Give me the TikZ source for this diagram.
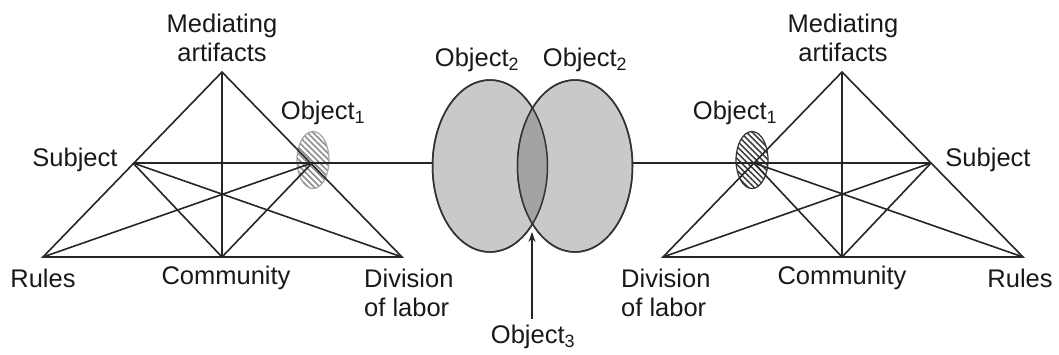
\documentclass[tikz,border=0pt]{standalone}
\usepackage{fontspec}
\setmainfont{Liberation Sans}
\usetikzlibrary{shapes.geometric,patterns.meta,arrows.meta}
\begin{document}
\begin{tikzpicture}[x=1pt,y=-1pt,
  edge/.style={line width=1.6pt, draw=black!85},
  lbl/.style={font=\fontsize{25.5}{29.5}\selectfont, inner sep=0pt, align=center, text=black!90},
  bigobj/.style={ellipse, draw=black!80, line width=1.5pt, minimum width=115pt, minimum height=172pt, inner sep=0pt},
  smallobj/.style={ellipse, line width=1.2pt, minimum width=32pt, minimum height=57pt, inner sep=0pt,
    pattern={Lines[angle=-45,distance=4.2pt,line width=1.6pt]}},
  vtx/.style={inner sep=0pt, minimum size=0pt}
]
\useasboundingbox (0,0) rectangle (1059,354);

% ---------- middle: Object2 ellipses ----------
\node[bigobj, fill=gray!42] (o2a) at (490,166) {};
\node[bigobj, fill=gray!42] (o2b) at (575,166) {};
\begin{scope}
  \clip (490,166) ellipse [x radius=57.5pt, y radius=86pt];
  \fill[gray!72] (575,166) ellipse [x radius=57.5pt, y radius=86pt];
\end{scope}
\draw[black!80, line width=1.5pt] (490,166) ellipse [x radius=57.5pt, y radius=86pt];
\draw[black!80, line width=1.5pt] (575,166) ellipse [x radius=57.5pt, y radius=86pt];

% ---------- left triangle ----------
\node[smallobj, pattern color=black!45, draw=black!35] (Lo1e) at (313,160) {};
\coordinate (Ltop) at (222,72);
\coordinate (Lsub) at (133,163);
\coordinate (Lobj) at (312,163);
\coordinate (Lrul) at (43,257);
\coordinate (Lcom) at (222,257);
\coordinate (Ldiv) at (402,257);
\draw[edge] (Lrul) -- (Ltop) -- (Ldiv) -- cycle;
\draw[edge] (Ltop) -- (Lcom);
\draw[edge] (Lsub) -- (Lobj);
\draw[edge] (Lsub) -- (Lcom);
\draw[edge] (Lsub) -- (Ldiv);
\draw[edge] (Lobj) -- (Lrul);
\draw[edge] (Lobj) -- (Lcom);
\draw[edge] (Lobj) -- (Lobj -| o2a.west);

% ---------- right triangle ----------
\node[smallobj, pattern color=black!75, draw=black!80] (Ro1e) at (752,160) {};
\coordinate (Rtop) at (842,72);
\coordinate (Rsub) at (931,163);
\coordinate (Robj) at (754,163);
\coordinate (Rrul) at (1023,257);
\coordinate (Rcom) at (842,257);
\coordinate (Rdiv) at (663,257);
\draw[edge] (Rdiv) -- (Rtop) -- (Rrul) -- cycle;
\draw[edge] (Rtop) -- (Rcom);
\draw[edge] (Robj) -- (Rsub);
\draw[edge] (Robj) -- (Rcom);
\draw[edge] (Robj) -- (Rrul);
\draw[edge] (Rsub) -- (Rdiv);
\draw[edge] (Rsub) -- (Rcom);
\draw[edge] (Robj) -- (Robj -| o2b.east);

% ---------- Object3 arrow ----------
\node[lbl] (o3) at (533,337) {Object\textsubscript{3}};
\coordinate (o3tip) at (532,232);
\draw[line width=1.1pt, black!85, -{Stealth[length=10pt,width=7pt]}] (o3.north -| o3tip) ++(0,-6) -- (o3tip);

% ---------- labels ----------
\node[lbl] (Lmed) at (222,38) {Mediating\\artifacts};
\node[lbl] (Lo1) at (323,113) {Object\textsubscript{1}};
\node[lbl] (Lsubl) at (75,160) {Subject};
\node[lbl] (Lrull) at (43,278) {Rules};
\node[lbl] (Lcoml) at (226,278) {Community};
\node[lbl, align=left, anchor=west] (Ldivl) at (364,293) {Division\\of labor};

\node[lbl] (o2al) at (477,60) {Object\textsubscript{2}};
\node[lbl] (o2bl) at (585,60) {Object\textsubscript{2}};

\node[lbl] (Rmed) at (843,38) {Mediating\\artifacts};
\node[lbl] (Ro1) at (735,113) {Object\textsubscript{1}};
\node[lbl] (Rsubl) at (988,160) {Subject};
\node[lbl] (Rrull) at (1020,278) {Rules};
\node[lbl] (Rcoml) at (842,278) {Community};
\node[lbl, align=left, anchor=west] (Rdivl) at (621,293) {Division\\of labor};
\end{tikzpicture}
\end{document}
